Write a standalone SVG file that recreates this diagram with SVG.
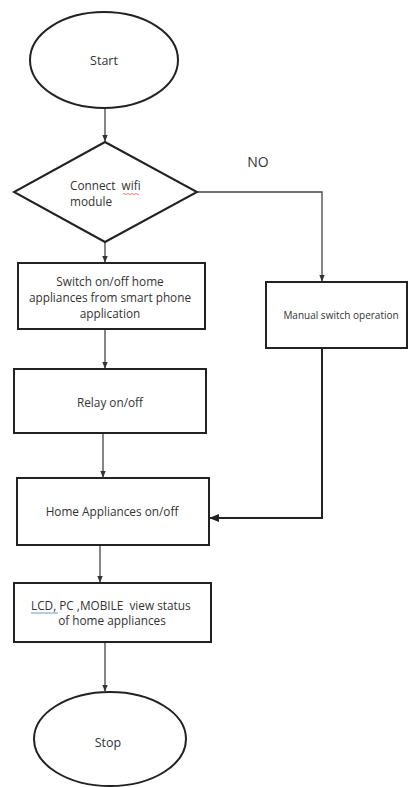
<svg xmlns="http://www.w3.org/2000/svg" width="409" height="787" viewBox="0 0 409 787">
<defs>
<style>
.shape{fill:#fff;stroke:#222;stroke-width:2}
.conn{fill:none;stroke:#444;stroke-width:1.3}
.t{font-family:"Open Sans","Liberation Sans",sans-serif;fill:#333;font-size:11.8px;text-anchor:middle}
</style>
<marker id="ah" viewBox="0 0 10 10" refX="9" refY="5" markerWidth="7" markerHeight="7" markerUnits="userSpaceOnUse" orient="auto">
<path d="M0,1 L10,5 L0,9 z" fill="#333"/>
</marker>
<marker id="ahb" viewBox="0 0 10 10" refX="9" refY="5" markerWidth="10" markerHeight="10" markerUnits="userSpaceOnUse" orient="auto">
<path d="M0,1 L10,5 L0,9 z" fill="#222"/>
</marker>
</defs>
<rect width="409" height="787" fill="#fff"/>
<g id="connectors">
<line class="conn" x1="105" y1="108" x2="105" y2="141" marker-end="url(#ah)"/>
<line class="conn" x1="105" y1="242" x2="105" y2="262" marker-end="url(#ah)"/>
<polyline class="conn" points="197,192 322,192 322,281" marker-end="url(#ah)"/>
<line class="conn" x1="105" y1="329" x2="105" y2="368" marker-end="url(#ah)"/>
<line class="conn" x1="103" y1="433" x2="103" y2="477" marker-end="url(#ah)"/>
<polyline class="conn" style="stroke:#222;stroke-width:2" points="322,348 322,518 210,518" marker-end="url(#ahb)"/>
<line class="conn" x1="100" y1="545" x2="100" y2="582" marker-end="url(#ah)"/>
<line class="conn" x1="105" y1="642" x2="105" y2="691" marker-end="url(#ah)"/>
<text class="t" x="258" y="167" style="font-size:14px">NO</text>
</g>
<g id="start">
<ellipse class="shape" cx="104" cy="60" rx="74" ry="48"/>
<text class="t" x="104" y="65" style="font-size:12.5px">Start</text>
</g>
<g id="decision">
<polygon class="shape" points="105,142 197,192 105,242 14,192"/>
<text class="t" x="70" y="190" xml:space="preserve" style="text-anchor:start">Connect  wifi</text>
<text class="t" x="70" y="206" style="text-anchor:start">module</text>
<path d="M123,194 q1,-1 2,0 q1,1 2,0 q1,-1 2,0 q1,1 2,0 q1,-1 2,0 q1,1 2,0 q1,-1 2,0 q1,1 2,0" fill="none" stroke="#d44" stroke-width="0.7"/>
</g>
<g id="switch">
<rect class="shape" x="18" y="263" width="187" height="66"/>
<text class="t" x="110" y="286">Switch on/off home</text>
<text class="t" x="110" y="302">appliances from smart phone</text>
<text class="t" x="110" y="318">application</text>
</g>
<g id="manual">
<rect class="shape" x="266" y="282" width="141" height="66"/>
<text class="t" x="341" y="319" style="font-size:10px">Manual switch operation</text>
</g>
<g id="relay">
<rect class="shape" x="14" y="369" width="192" height="64"/>
<text class="t" x="110" y="407">Relay on/off</text>
</g>
<g id="home">
<rect class="shape" x="17" y="478" width="192" height="67"/>
<text class="t" x="112" y="516">Home Appliances on/off</text>
</g>
<g id="lcd">
<rect class="shape" x="14" y="583" width="197" height="59"/>
<text class="t" x="31" y="610" xml:space="preserve" style="text-anchor:start">LCD, PC ,MOBILE  view status</text>
<text class="t" x="112" y="625">of home appliances</text>
<line x1="31" y1="613" x2="58" y2="613" stroke="#4a7fb0" stroke-width="0.8"/>
</g>
<g id="stop">
<ellipse class="shape" cx="110" cy="739" rx="76" ry="47"/>
<text class="t" x="108" y="747" style="font-size:12.5px">Stop</text>
</g>
</svg>
